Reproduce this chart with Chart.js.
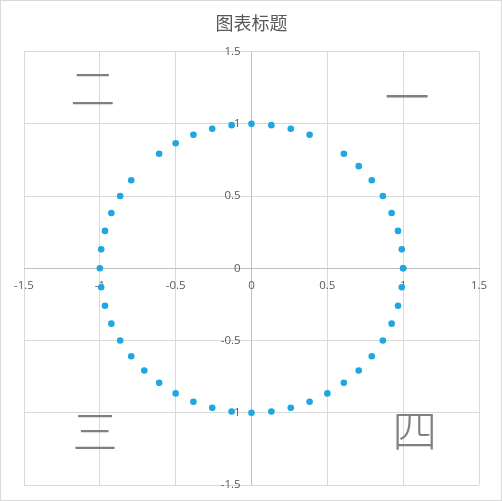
<!DOCTYPE html>
<html>
<head>
<meta charset="utf-8">
<script src="https://cdn.jsdelivr.net/npm/chart.js@4"></script>
<style>
html,body{margin:0;padding:0;background:#fff;}
#wrap{position:relative;width:502px;height:501px;box-sizing:border-box;border:1px solid #d9d9d9;}
canvas{display:block;}
</style>
</head>
<body>
<div id="wrap"><canvas id="c" width="500" height="499"></canvas></div>
<script>
const chartTitle = "图表标题";
const xValues = [1.000,0.991,0.966,0.924,0.866,0.793,0.707,0.609,0.383,0.259,0.131,0.000,
  -0.131,-0.259,-0.383,-0.500,-0.609,-0.793,-0.866,-0.924,-0.966,-0.991,-1.000,
  -0.991,-0.966,-0.924,-0.866,-0.793,-0.707,-0.609,-0.500,-0.383,-0.259,-0.131,0.000,
  0.131,0.259,0.383,0.500,0.609,0.707,0.793,0.866,0.924,0.966,0.991,1.000];
const yValues = [0.000,0.131,0.259,0.383,0.500,0.609,0.707,0.793,0.924,0.966,0.991,1.000,
  0.991,0.966,0.924,0.866,0.793,0.609,0.500,0.383,0.259,0.131,0.000,
  -0.131,-0.259,-0.383,-0.500,-0.609,-0.707,-0.793,-0.866,-0.924,-0.966,-0.991,-1.000,
  -0.991,-0.966,-0.924,-0.866,-0.793,-0.707,-0.609,-0.500,-0.383,-0.259,-0.131,0.000];
const quadrantLabels = ["一","二","三","四"];
const axisMin = -1.5, axisMax = 1.5, axisStep = 0.5;

const points = xValues.map((x,i)=>({x:x,y:yValues[i]}));

const quadPlugin = {
  id:'quad',
  afterDatasetsDraw(chart){
    const ctx = chart.ctx, a = chart.chartArea;
    const w = a.right - a.left, h = a.bottom - a.top;
    // label anchors as fractions of the plot area
    const pos = [[0.842,0.104],[0.151,0.087],[0.156,0.878],[0.859,0.875]];
    ctx.save();
    ctx.fillStyle = '#808080';
    ctx.font = '300 45px "Noto Sans CJK SC"';
    ctx.textAlign = 'center';
    ctx.textBaseline = 'middle';
    quadrantLabels.forEach((t,i)=>{
      ctx.fillText(t, a.left + pos[i][0]*w, a.top + pos[i][1]*h);
    });
    ctx.restore();
  }
};

function zeroFit(s){
  if (s.isHorizontal()) s.height = 0; else s.width = 0;
  s.paddingTop = 0; s.paddingBottom = 0; s.paddingLeft = 0; s.paddingRight = 0;
}

new Chart(document.getElementById('c'), {
  type:'scatter',
  data:{datasets:[{
    data:points,
    backgroundColor:'#1fa7e1',
    borderColor:'#1fa7e1',
    pointRadius:3.3,
    pointBorderWidth:0
  }]},
  options:{
    responsive:false,
    animation:false,
    layout:{padding:{left:23,right:22,top:0,bottom:15}},
    plugins:{
      legend:{display:false},
      tooltip:{enabled:false},
      title:{display:true,text:chartTitle,color:'#595959',
        font:{family:'"Noto Sans CJK SC"',size:18,weight:'normal'},
        padding:{top:11,bottom:18}}
    },
    scales:{
      x:{type:'linear',min:axisMin,max:axisMax,position:{y:0},
        afterFit:zeroFit,
        grid:{color:c=>c.tick && c.tick.value===0 ? '#bfbfbf' : '#d9d9d9',drawTicks:false},
        border:{display:true,color:'#bfbfbf'},
        ticks:{stepSize:axisStep,color:'#595959',padding:11,maxRotation:0,
          font:{family:'"Open Sans"',size:11.5},
          callback:v=>String(v)}
      },
      y:{type:'linear',min:axisMin,max:axisMax,position:{x:-0.072},
        afterFit:zeroFit,
        grid:{color:'#d9d9d9',drawTicks:false},
        border:{display:false},
        ticks:{stepSize:axisStep,color:'#595959',
          font:{family:'"Open Sans"',size:11.5},
          callback:v=>String(v)}
      }
    }
  },
  plugins:[quadPlugin]
});
</script>
</body>
</html>
